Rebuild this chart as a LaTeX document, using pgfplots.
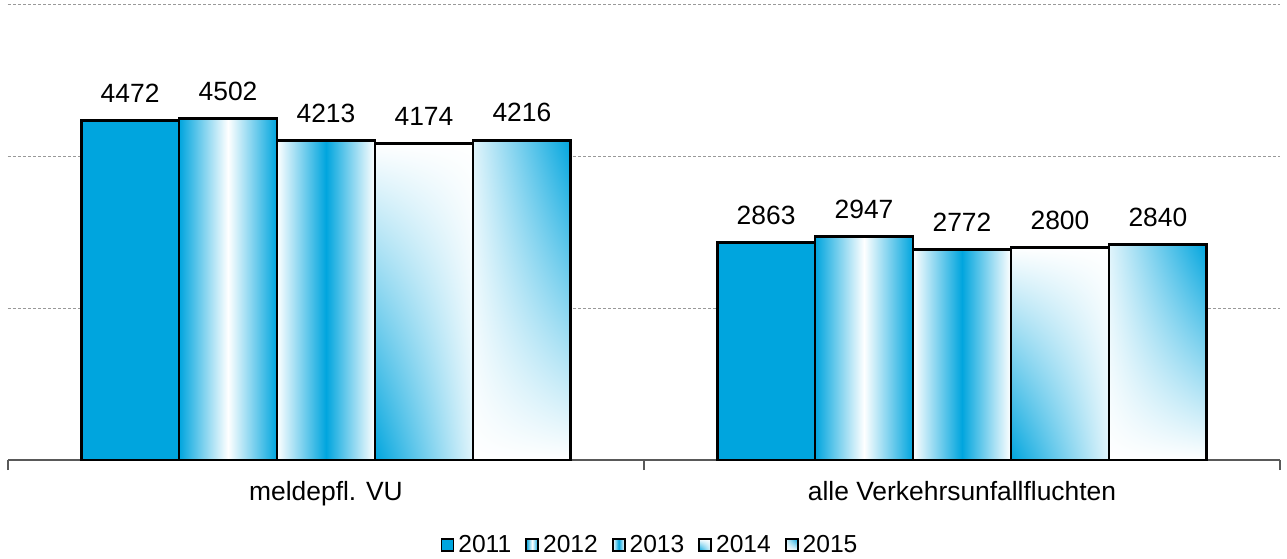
\documentclass[border=0pt]{standalone}
\usepackage{fontspec}
\setmainfont{Liberation Sans}
\usepackage{pgfplots}
\pgfplotsset{compat=1.18}
\usetikzlibrary{shadings}
\definecolor{cblue}{RGB}{0,165,222}
\newcommand{\lblfont}{\fontsize{13.2}{15}\selectfont}
\newcommand{\legfont}{\fontsize{12.3}{14}\selectfont}
\pgfplotsset{
  sqlegend/.style={legend image code/.code={\draw[##1,line width=0.9pt] (0pt,-3pt) rectangle (6pt,3pt);}},
  y11/.style={fill=cblue},
  y12/.style={left color=cblue, right color=cblue, middle color=white},
  y13/.style={left color=white, right color=white, middle color=cblue},
  y14/.style={shading=bilinear interpolation, lower left=cblue, lower right=cblue!12, upper left=white, upper right=white},
  y15/.style={shading=bilinear interpolation, upper right=cblue, lower right=white, upper left=cblue!12, lower left=white},
}
\begin{document}
\begin{tikzpicture}
\useasboundingbox (0,0) rectangle (643.5pt,279pt);
\begin{axis}[
  at={(4pt,49pt)}, anchor=south west,
  scale only axis, width=636pt, height=227.5pt,
  xmin=-0.5, xmax=1.5, ymin=0, ymax=6000,
  axis x line*=bottom, axis y line*=left,
  y axis line style={draw=none},
  x axis line style={draw=black!65, line width=0.6pt, -},
  ytick={2000,4000,6000}, yticklabels={}, ytick style={draw=none},
  ymajorgrids, grid style={draw=black!40, line width=0.5pt, dash pattern=on 1.5pt off 1pt},
  xtick={-0.5,0.5,1.5}, xticklabels={},
  xtick style={draw=black!65, line width=0.6pt}, tick align=outside, major tick length=5pt,
  extra x ticks={0,1},
  extra x tick labels={meldepfl. VU, alle Verkehrsunfallfluchten},
  extra x tick style={major tick length=0pt, tick label style={font=\lblfont, yshift=-7pt}},
  ybar, bar width=0.154,
  /pgf/number format/1000 sep={},
  /pgf/number format/assume math mode=true,
  nodes near coords,
  every node near coord/.append style={font=\lblfont, text=black, yshift=5pt},
  legend style={at={(0.5055,-0.1868)}, anchor=center, draw=none, fill=none,
    legend columns=5, font=\legfont,
    /tikz/every even column/.append style={column sep=5pt}},
  every axis plot/.append style={draw=black, line width=1.4pt, bar shift=0pt},
]
% meldepfl. VU (category at x=0)
\addplot[y11, sqlegend, bar shift=0pt] coordinates {(-0.308,4472)};
\addlegendentry{2011}
\addplot[y12, sqlegend, bar shift=0pt] coordinates {(-0.154,4502)};
\addlegendentry{2012}
\addplot[y13, sqlegend, bar shift=0pt] coordinates {(0,4213)};
\addlegendentry{2013}
\addplot[y14, sqlegend, bar shift=0pt] coordinates {(0.154,4174)};
\addlegendentry{2014}
\addplot[y15, sqlegend, bar shift=0pt] coordinates {(0.308,4216)};
\addlegendentry{2015}
% alle Verkehrsunfallfluchten (category at x=1)
\addplot[y11, forget plot, bar shift=0pt] coordinates {(0.692,2863)};
\addplot[y12, forget plot, bar shift=0pt] coordinates {(0.846,2947)};
\addplot[y13, forget plot, bar shift=0pt] coordinates {(1,2772)};
\addplot[y14, forget plot, bar shift=0pt] coordinates {(1.154,2800)};
\addplot[y15, forget plot, bar shift=0pt] coordinates {(1.308,2840)};
\end{axis}
\end{tikzpicture}
\end{document}
